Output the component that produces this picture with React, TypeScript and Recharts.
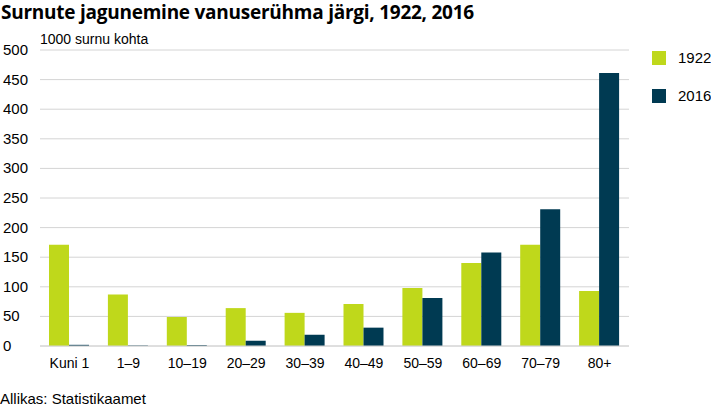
import { BarChart, Bar, XAxis, YAxis, CartesianGrid } from 'recharts';

const ageGroups = ['Kuni 1', '1–9', '10–19', '20–29', '30–39', '40–49', '50–59', '60–69', '70–79', '80+'];
const deaths1922 = [171, 87, 49, 64, 56, 71, 98, 140, 171, 93];
const deaths2016 = [2, 1, 1.5, 9, 19, 31, 81, 158, 231, 461];
const yTicks = [0, 50, 100, 150, 200, 250, 300, 350, 400, 450, 500];

const GREEN = '#bfd81b';
const NAVY = '#003a52';
const FONT = '"Liberation Sans", Arial, sans-serif';

const data = ageGroups.map((g, i) => ({ name: g, y1922: deaths1922[i], y2016: deaths2016[i] }));

const YTick = (props: any) => {
  const { y, payload } = props;
  return (
    <text x={3} y={y} dy={5} fontSize={15} fill="#000" fontFamily={FONT} textAnchor="start">
      {payload.value}
    </text>
  );
};

const legendItems = [
  { label: '1922', color: GREEN },
  { label: '2016', color: NAVY },
];

export default function App() {
  return (
    <div style={{ position: 'absolute', left: 0, top: 0, width: 711, height: 411, background: '#fff', fontFamily: FONT }}>
      <div style={{ position: 'absolute', left: 1, top: -1, fontFamily: '"Open Sans", sans-serif', fontWeight: 700, fontSize: 19, letterSpacing: -0.25, color: '#000', whiteSpace: 'nowrap' }}>
        Surnute jagunemine vanuserühma järgi, 1922, 2016
      </div>
      <div style={{ position: 'absolute', left: 40, top: 31, fontSize: 14, color: '#000' }}>1000 surnu kohta</div>
      <BarChart width={711} height={411} data={data} margin={{ top: 50, right: 82, bottom: 35, left: 0 }} barGap={0} barSize={20}>
        <CartesianGrid vertical={false} stroke="#d4d4d4" />
        <XAxis dataKey="name" tickLine={false} axisLine={{ stroke: '#d4d4d4' }} tick={{ fontSize: 14, fill: '#000', fontFamily: FONT }} tickMargin={6} />
        <YAxis domain={[0, 500]} ticks={yTicks} width={40} axisLine={false} tickLine={false} tick={<YTick />} />
        <Bar dataKey="y1922" name="1922" fill={GREEN} isAnimationActive={false} />
        <Bar dataKey="y2016" name="2016" fill={NAVY} isAnimationActive={false} />
      </BarChart>
      <div style={{ position: 'absolute', left: 652, top: 42, fontSize: 15, color: '#000' }}>
        {legendItems.map((it) => (
          <div key={it.label} style={{ display: 'flex', alignItems: 'center', height: 31, marginBottom: 7 }}>
            <div style={{ width: 14, height: 14, background: it.color, marginRight: 12 }} />
            <span>{it.label}</span>
          </div>
        ))}
      </div>
      <div style={{ position: 'absolute', left: 0, top: 390, fontSize: 15, color: '#000' }}>Allikas: Statistikaamet</div>
    </div>
  );
}
